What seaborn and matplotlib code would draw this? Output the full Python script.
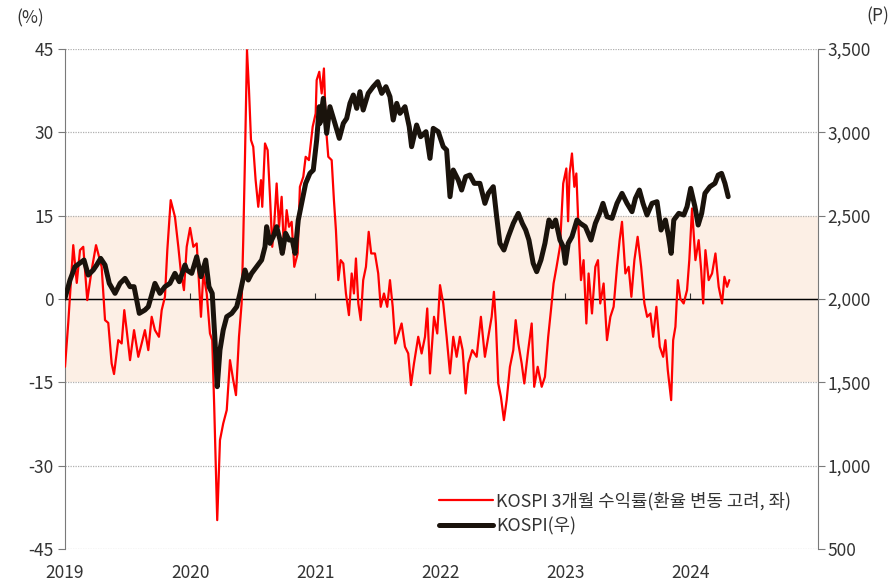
import pandas as pd
import matplotlib
matplotlib.use("Agg")
import matplotlib.pyplot as plt
import seaborn as sns

# KOSPI 3-month return (FX adjusted, %), decimal-year time stamps
ret_t = [2019.000, 2019.026, 2019.066, 2019.094, 2019.120, 2019.146, 2019.178, 2019.213, 2019.248, 2019.293,
         2019.320, 2019.346, 2019.373, 2019.392, 2019.426, 2019.453, 2019.474, 2019.493, 2019.520, 2019.552,
         2019.586, 2019.613, 2019.639, 2019.666, 2019.693, 2019.719, 2019.751, 2019.773, 2019.799, 2019.818,
         2019.845, 2019.879, 2019.906, 2019.925, 2019.951, 2019.973, 2020.000, 2020.026, 2020.053, 2020.087,
         2020.106, 2020.133, 2020.159, 2020.177, 2020.193, 2020.217, 2020.239, 2020.265, 2020.293, 2020.319,
         2020.345, 2020.367, 2020.391, 2020.412, 2020.425, 2020.439, 2020.455, 2020.471, 2020.487, 2020.505,
         2020.524, 2020.545, 2020.567, 2020.577, 2020.599, 2020.620, 2020.639, 2020.657, 2020.673, 2020.692,
         2020.711, 2020.732, 2020.751, 2020.772, 2020.791, 2020.812, 2020.833, 2020.860, 2020.878, 2020.905,
         2020.924, 2020.950, 2020.980, 2021.004, 2021.012, 2021.033, 2021.052, 2021.070, 2021.086, 2021.105,
         2021.132, 2021.150, 2021.166, 2021.185, 2021.204, 2021.225, 2021.246, 2021.270, 2021.292, 2021.310,
         2021.326, 2021.345, 2021.364, 2021.384, 2021.406, 2021.428, 2021.448, 2021.478, 2021.504, 2021.524,
         2021.550, 2021.576, 2021.598, 2021.620, 2021.640, 2021.667, 2021.691, 2021.718, 2021.744, 2021.766,
         2021.790, 2021.824, 2021.851, 2021.878, 2021.896, 2021.918, 2021.950, 2021.976, 2021.998, 2022.024,
         2022.051, 2022.078, 2022.104, 2022.131, 2022.157, 2022.179, 2022.203, 2022.224, 2022.256, 2022.291,
         2022.325, 2022.357, 2022.384, 2022.411, 2022.429, 2022.445, 2022.464, 2022.485, 2022.509, 2022.531,
         2022.557, 2022.584, 2022.603, 2022.624, 2022.651, 2022.672, 2022.703, 2022.731, 2022.751, 2022.779,
         2022.811, 2022.837, 2022.863, 2022.885, 2022.906, 2022.930, 2022.957, 2022.983, 2023.008, 2023.022,
         2023.034, 2023.053, 2023.072, 2023.088, 2023.106, 2023.125, 2023.146, 2023.168, 2023.186, 2023.213,
         2023.240, 2023.261, 2023.279, 2023.306, 2023.333, 2023.360, 2023.386, 2023.413, 2023.434, 2023.453,
         2023.480, 2023.506, 2023.528, 2023.552, 2023.578, 2023.606, 2023.632, 2023.654, 2023.680, 2023.702,
         2023.728, 2023.755, 2023.782, 2023.800, 2023.819, 2023.846, 2023.862, 2023.880, 2023.899, 2023.920,
         2023.946, 2023.973, 2023.991, 2024.013, 2024.040, 2024.066, 2024.086, 2024.102, 2024.120, 2024.146,
         2024.173, 2024.200, 2024.226, 2024.253, 2024.272, 2024.293, 2024.311]
ret_v = [-12.2, -4.3, 9.7, 2.9, 8.8, 9.4, -0.2, 5.2, 9.7, 5.8,
         -3.8, -4.3, -11.6, -13.5, -7.4, -8.0, -2.0, -5.6, -11.0, -5.6,
         -10.4, -8.0, -5.6, -9.2, -3.2, -5.6, -6.8, -2.0, 0.4, 8.8,
         17.8, 14.8, 9.4, 5.2, 1.6, 9.4, 12.8, 9.4, 10.0, -3.2,
         4.6, 1.0, -6.2, -7.4, -19.4, -39.8, -25.4, -22.4, -20.0, -11.0,
         -14.6, -17.3, -6.8, -0.8, 10.6, 25.6, 44.8, 37.6, 28.6, 27.4,
         21.4, 16.6, 21.4, 16.6, 28.0, 26.8, 18.4, 9.4, 13.6, 20.8,
         13.0, 18.4, 8.8, 16.0, 13.0, 13.9, 5.8, 8.2, 20.2, 22.0,
         25.6, 25.0, 31.0, 33.4, 39.4, 40.9, 37.0, 41.5, 31.0, 25.6,
         25.0, 17.8, 12.4, 3.4, 7.0, 6.4, 1.0, -2.9, 4.6, 1.0,
         7.3, -0.8, -3.8, 3.4, 5.8, 12.1, 8.2, 8.2, 4.6, -1.4,
         1.0, -1.4, 3.4, -1.4, -8.0, -6.2, -4.4, -8.6, -9.8, -15.5,
         -11.6, -6.8, -9.8, -6.8, -1.7, -13.4, -3.2, -6.2, 2.5, -0.8,
         -6.8, -13.4, -6.8, -10.4, -6.8, -9.2, -17.0, -11.6, -9.2, -10.4,
         -3.2, -10.4, -6.8, -3.2, 1.3, -4.4, -15.2, -17.6, -21.8, -18.2,
         -12.2, -9.2, -3.8, -8.0, -11.6, -15.2, -9.2, -4.4, -15.8, -12.2,
         -15.8, -14.0, -6.8, -2.0, 2.8, 5.8, 9.4, 20.8, 23.5, 14.0,
         22.6, 26.2, 20.2, 22.6, 12.4, 3.4, 7.0, -4.4, 4.6, -2.6,
         5.8, 7.0, -0.8, 2.8, -7.4, -3.2, -1.4, 5.8, 10.6, 13.9,
         4.6, 5.8, 0.4, 7.0, 11.2, 5.8, -0.8, -3.2, -2.6, -6.8,
         -1.4, -8.6, -10.4, -7.4, -12.8, -18.2, -7.4, -5.0, 3.4, 0.0,
         -0.8, 1.6, 7.0, 16.3, 7.0, 10.6, 5.2, -0.8, 8.8, 3.4,
         4.6, 8.2, 2.2, -0.8, 4.0, 2.2, 3.4]

# KOSPI index level (P)
kospi_t = [2019.000, 2019.040, 2019.080, 2019.120, 2019.152, 2019.186, 2019.226, 2019.253, 2019.285, 2019.320,
           2019.354, 2019.400, 2019.440, 2019.480, 2019.520, 2019.552, 2019.594, 2019.639, 2019.666, 2019.719,
           2019.759, 2019.799, 2019.839, 2019.879, 2019.914, 2019.959, 2019.973, 2020.013, 2020.053, 2020.087,
           2020.125, 2020.151, 2020.177, 2020.199, 2020.217, 2020.239, 2020.265, 2020.293, 2020.333, 2020.373,
           2020.399, 2020.439, 2020.465, 2020.492, 2020.532, 2020.572, 2020.599, 2020.612, 2020.639, 2020.665,
           2020.692, 2020.719, 2020.737, 2020.764, 2020.791, 2020.817, 2020.839, 2020.865, 2020.897, 2020.924,
           2020.958, 2020.985, 2021.012, 2021.033, 2021.038, 2021.065, 2021.092, 2021.118, 2021.150, 2021.193,
           2021.225, 2021.252, 2021.278, 2021.305, 2021.332, 2021.358, 2021.384, 2021.424, 2021.464, 2021.500,
           2021.532, 2021.566, 2021.598, 2021.624, 2021.652, 2021.678, 2021.718, 2021.752, 2021.771, 2021.811,
           2021.843, 2021.886, 2021.918, 2021.944, 2021.984, 2022.024, 2022.051, 2022.078, 2022.104, 2022.144,
           2022.171, 2022.203, 2022.237, 2022.272, 2022.317, 2022.357, 2022.384, 2022.424, 2022.451, 2022.477,
           2022.509, 2022.544, 2022.584, 2022.624, 2022.656, 2022.683, 2022.709, 2022.743, 2022.771, 2022.805,
           2022.837, 2022.869, 2022.895, 2022.922, 2022.957, 2022.983, 2023.000, 2023.023, 2023.053, 2023.093,
           2023.120, 2023.160, 2023.205, 2023.240, 2023.274, 2023.301, 2023.333, 2023.373, 2023.413, 2023.453,
           2023.493, 2023.533, 2023.560, 2023.592, 2023.621, 2023.653, 2023.693, 2023.733, 2023.765, 2023.800,
           2023.826, 2023.846, 2023.867, 2023.907, 2023.947, 2023.973, 2024.002, 2024.036, 2024.062, 2024.090,
           2024.116, 2024.156, 2024.196, 2024.222, 2024.249, 2024.276, 2024.302]
kospi_v = [2005, 2114, 2194, 2216, 2234, 2144, 2174, 2204, 2244, 2204,
           2094, 2034, 2094, 2124, 2074, 2074, 1914, 1934, 1954, 2094,
           2034, 2074, 2094, 2154, 2104, 2204, 2174, 2154, 2254, 2134,
           2234, 2074, 2034, 1754, 1474, 1694, 1814, 1894, 1914, 1954,
           2034, 2174, 2114, 2154, 2194, 2234, 2314, 2434, 2334, 2374,
           2434, 2354, 2274, 2394, 2354, 2354, 2274, 2474, 2594, 2694,
           2754, 2774, 2954, 3154, 3054, 3204, 2994, 3154, 3074, 2964,
           3054, 3084, 3174, 3224, 3144, 3244, 3134, 3234, 3274, 3304,
           3234, 3274, 3214, 3074, 3174, 3114, 3154, 3034, 2914, 3044,
           2974, 3004, 2844, 3024, 3004, 2914, 2894, 2614, 2774, 2714,
           2654, 2734, 2744, 2694, 2694, 2574, 2634, 2674, 2494, 2334,
           2294, 2374, 2454, 2514, 2454, 2414, 2354, 2214, 2164, 2234,
           2334, 2474, 2434, 2474, 2354, 2314, 2214, 2334, 2374, 2474,
           2454, 2434, 2354, 2454, 2514, 2574, 2494, 2484, 2574, 2634,
           2574, 2524, 2604, 2654, 2574, 2504, 2574, 2584, 2414, 2474,
           2374, 2274, 2474, 2514, 2504, 2554, 2664, 2554, 2444, 2514,
           2634, 2674, 2694, 2744, 2754, 2694, 2614]

years = [2019, 2020, 2021, 2022, 2023, 2024]
left_ticks = [-45, -30, -15, 0, 15, 30, 45]
right_ticks = [500, 1000, 1500, 2000, 2500, 3000, 3500]

ret_label = "KOSPI 3개월 수익률(환율 변동 고려, 좌)"
kospi_label = "KOSPI(우)"

ret_df = pd.DataFrame({"t": ret_t, "v": ret_v})
kospi_df = pd.DataFrame({"t": kospi_t, "v": kospi_v})

sns.set_style("white")
plt.rcParams["font.family"] = ["Noto Sans CJK KR", "DejaVu Sans"]

txt = "#333333"
spine_c = "#7a7a7a"

fig = plt.figure(figsize=(8.94, 5.85), dpi=100)
ax = fig.add_axes([0.0727, 0.0615, 0.8423, 0.8547])

# shaded band and grid
ax.axhspan(-15, 15, color="#FCEFE5", zorder=0, lw=0)
for v in [-45, -30, -15, 15, 30, 45]:
    ax.axhline(v, color="#b0b0b0", lw=0.9, ls=(0, (1, 1)), zorder=1)
ax.axhline(0, color="black", lw=1.0, zorder=2)

sns.lineplot(data=ret_df, x="t", y="v", ax=ax, color="#FF0000", lw=1.6, zorder=3)
ax.set_xlim(2019.0, 2025.02)
ax.set_ylim(-45, 45)
ax.set_yticks(left_ticks)
ax.set_yticklabels([str(v) for v in left_ticks])
ax.set_xticks(years)
ax.set_xticklabels([str(y) for y in years])
ax.set_xlabel("")
ax.set_ylabel("")
ax.tick_params(axis="y", direction="out", length=5, color=spine_c, labelsize=12.5, labelcolor=txt, pad=3)
ax.tick_params(axis="x", length=0, labelsize=12.5, labelcolor=txt, pad=11)
for s in ["top", "bottom"]:
    ax.spines[s].set_visible(False)
ax.spines["left"].set_color(spine_c)
ax.spines["right"].set_visible(False)

# small year ticks on the zero line
sec = ax.secondary_xaxis(0.5)
sec.set_xticks(years)
sec.set_xticklabels([])
sec.tick_params(direction="out", length=4, color="#333333")
sec.spines["bottom"].set_visible(False)

ax2 = ax.twinx()
sns.lineplot(data=kospi_df, x="t", y="v", ax=ax2, color="#1a130c", lw=3.6, zorder=4)
ax2.set_ylim(500, 3500)
ax2.set_yticks(right_ticks)
ax2.set_yticklabels([f"{v:,}" for v in right_ticks])
ax2.set_ylabel("")
ax2.tick_params(axis="y", direction="out", length=5, color=spine_c, labelsize=12.5, labelcolor=txt, pad=1.5)
for s in ["top", "bottom", "left"]:
    ax2.spines[s].set_visible(False)
ax2.spines["right"].set_color(spine_c)

h1 = ax.get_lines()[-1]
h2 = ax2.get_lines()[-1]
ax2.legend([h1, h2], [ret_label, kospi_label], loc="lower left",
           bbox_to_anchor=(0.476, -0.005), frameon=False, fontsize=12.8,
           handlelength=3.0, handletextpad=0.2, labelspacing=0.4, labelcolor=txt)

fig.text(0.034, 0.969, "(%)", ha="center", va="center", fontsize=12.5, color=txt)
fig.text(0.982, 0.972, "(P)", ha="center", va="center", fontsize=12.5, color=txt)

plt.savefig("out.png", dpi=100)
